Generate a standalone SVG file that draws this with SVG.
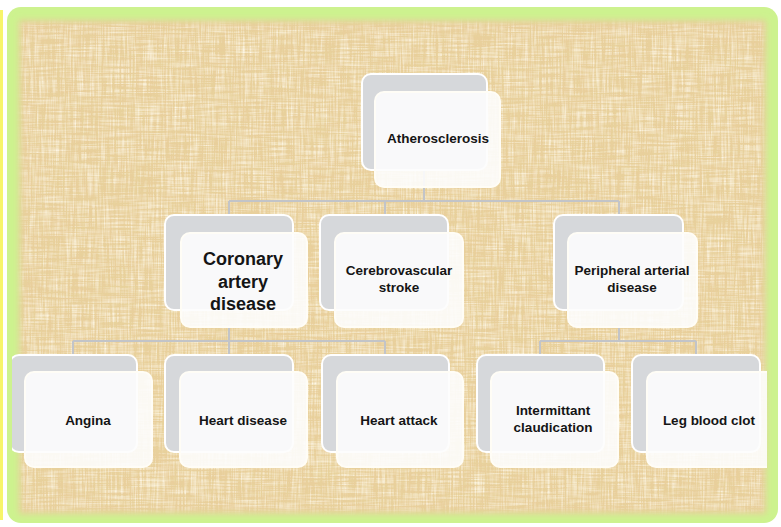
<svg xmlns="http://www.w3.org/2000/svg" width="781" height="527" viewBox="0 0 781 527">
<defs>
<style>
.back{fill:#d6d8db;stroke:#ffffff;stroke-width:2}
.front{fill:#fdfdfd;fill-opacity:0.9;stroke:#fffdf6;stroke-width:2}
.t{font-family:"Liberation Sans",Arial,sans-serif;font-weight:bold;font-size:13.5px;fill:#151515;text-anchor:middle}
.big{font-size:18px}
.conn{fill:none;stroke:#c2c4c8;stroke-width:2}
</style>
<filter id="texd" x="0" y="0" width="100%" height="100%">
<feTurbulence type="fractalNoise" baseFrequency="0.45 0.02" numOctaves="2" seed="3" result="v"/>
<feTurbulence type="fractalNoise" baseFrequency="0.02 0.45" numOctaves="2" seed="7" result="h"/>
<feComposite in="v" in2="h" operator="arithmetic" k2="0.5" k3="0.5" result="n"/>
<feColorMatrix in="n" type="matrix" values="0 0 0 0 0.8  0 0 0 0 0.65  0 0 0 0 0.33  2.4 0 0 0 -0.95"/>
<feGaussianBlur stdDeviation="0.6"/>
<feComposite in2="SourceGraphic" operator="in"/>
</filter>
<filter id="texl" x="0" y="0" width="100%" height="100%">
<feTurbulence type="fractalNoise" baseFrequency="0.6 0.03" numOctaves="2" seed="11" result="v"/>
<feTurbulence type="fractalNoise" baseFrequency="0.03 0.6" numOctaves="2" seed="19" result="h"/>
<feComposite in="v" in2="h" operator="arithmetic" k2="0.5" k3="0.5" result="n"/>
<feColorMatrix in="n" type="matrix" values="0 0 0 0 0.98  0 0 0 0 0.93  0 0 0 0 0.8  2.4 0 0 0 -1.0"/>
<feGaussianBlur stdDeviation="0.6"/>
<feComposite in2="SourceGraphic" operator="in"/>
</filter>
<filter id="soft" x="-5%" y="-5%" width="110%" height="110%">
<feGaussianBlur stdDeviation="3"/>
</filter>
<mask id="edge" maskUnits="userSpaceOnUse" x="0" y="0" width="781" height="527">
<rect x="22" y="24" width="741" height="486" fill="#ffffff" filter="url(#soft)"/>
</mask>
<clipPath id="inner"><rect x="12" y="14" width="755" height="504"/></clipPath>
</defs>
<rect x="0" y="0" width="781" height="527" fill="#ffffff"/>
<rect x="0" y="10" width="3" height="510" fill="#f7f56a"/>
<rect x="7" y="7" width="771" height="516" rx="14" fill="#cdf28f"/>
<rect x="19" y="20" width="747" height="494" fill="#e9cf9c" filter="url(#soft)"/>
<g mask="url(#edge)">
<rect x="16" y="18" width="753" height="498" fill="#e9cf9c" filter="url(#texd)"/>
<rect x="16" y="18" width="753" height="498" fill="#e9cf9c" filter="url(#texl)"/>
</g>
<g clip-path="url(#inner)">
<g id="connectors">
<path class="conn" d="M424 170 V201 M229 201 H619 M229 201 V215 M385 201 V215 M619 201 V215"/>
<path class="conn" d="M229 327 V341 M73 341 H385 M73 341 V355 M229 341 V355 M385 341 V355"/>
<path class="conn" d="M619 327 V341 M540 341 H696 M540 341 V355 M696 341 V355"/>
</g>
<g id="n-atherosclerosis">
<rect class="back" x="362" y="74" width="125" height="96" rx="9"/>
<rect class="front" x="375" y="92" width="125" height="95" rx="9"/>
<text class="t" x="438" y="143">Atherosclerosis</text>
</g>
<g id="n-coronary">
<rect class="back" x="165" y="215" width="128" height="95" rx="9"/>
<rect class="front" x="181" y="233" width="126" height="94" rx="9"/>
<text class="t big" x="243" y="265">Coronary</text>
<text class="t big" x="243" y="288">artery</text>
<text class="t big" x="243" y="310">disease</text>
</g>
<g id="n-cerebrovascular">
<rect class="back" x="320" y="215" width="128" height="95" rx="9"/>
<rect class="front" x="335" y="233" width="128" height="94" rx="9"/>
<text class="t" x="399" y="275">Cerebrovascular</text>
<text class="t" x="399" y="292">stroke</text>
</g>
<g id="n-peripheral">
<rect class="back" x="554" y="215" width="129" height="95" rx="9"/>
<rect class="front" x="568" y="233" width="129" height="94" rx="9"/>
<text class="t" x="632" y="275">Peripheral arterial</text>
<text class="t" x="632" y="292">disease</text>
</g>
<g id="n-angina">
<rect class="back" x="10" y="355" width="127" height="97" rx="9"/>
<rect class="front" x="25" y="372" width="127" height="95" rx="9"/>
<text class="t" x="88" y="425">Angina</text>
</g>
<g id="n-heart-disease">
<rect class="back" x="165" y="355" width="128" height="97" rx="9"/>
<rect class="front" x="180" y="372" width="127" height="95" rx="9"/>
<text class="t" x="243" y="425">Heart disease</text>
</g>
<g id="n-heart-attack">
<rect class="back" x="322" y="355" width="127" height="97" rx="9"/>
<rect class="front" x="337" y="372" width="126" height="95" rx="9"/>
<text class="t" x="399" y="425">Heart attack</text>
</g>
<g id="n-intermittant">
<rect class="back" x="477" y="355" width="127" height="97" rx="9"/>
<rect class="front" x="491" y="372" width="127" height="95" rx="9"/>
<text class="t" x="553" y="415">Intermittant</text>
<text class="t" x="553" y="432">claudication</text>
</g>
<g id="n-leg-blood-clot">
<rect class="back" x="632" y="355" width="128" height="97" rx="9"/>
<rect class="front" x="647" y="372" width="128" height="95" rx="9"/>
<text class="t" x="709" y="425">Leg blood clot</text>
</g>
</g>
</svg>
